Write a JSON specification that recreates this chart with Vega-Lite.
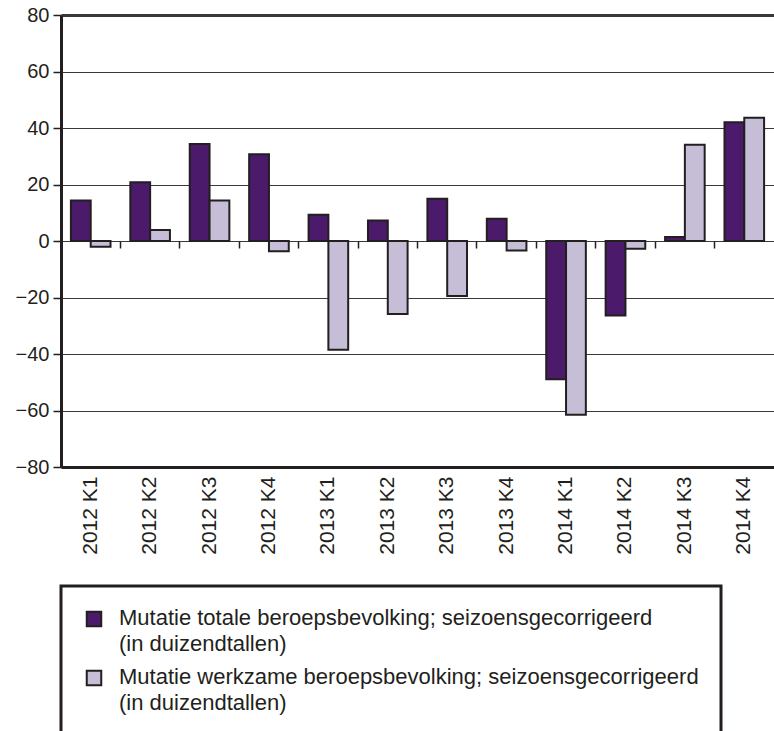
{
  "$schema": "https://vega.github.io/schema/vega-lite/v6.json",
  "autosize": "none",
  "width": 713,
  "height": 452,
  "padding": {"left": 61, "top": 15, "right": 0, "bottom": 264},
  "background": "#ffffff",
  "config": {
    "view": {"stroke": null},
    "font": "Liberation Sans",
    "axis": {"labelFont": "Liberation Sans", "labelColor": "#231f20", "titleFont": "Liberation Sans"},
    "legend": {"labelFont": "Liberation Sans"}
  },
  "data": {
    "values": [
      {"kwartaal": "2012 K1", "reeks": "Mutatie totale beroepsbevolking; seizoensgecorrigeerd (in duizendtallen)", "waarde": 14.3},
      {"kwartaal": "2012 K1", "reeks": "Mutatie werkzame beroepsbevolking; seizoensgecorrigeerd (in duizendtallen)", "waarde": -2.0},
      {"kwartaal": "2012 K2", "reeks": "Mutatie totale beroepsbevolking; seizoensgecorrigeerd (in duizendtallen)", "waarde": 20.8},
      {"kwartaal": "2012 K2", "reeks": "Mutatie werkzame beroepsbevolking; seizoensgecorrigeerd (in duizendtallen)", "waarde": 3.9},
      {"kwartaal": "2012 K3", "reeks": "Mutatie totale beroepsbevolking; seizoensgecorrigeerd (in duizendtallen)", "waarde": 34.3},
      {"kwartaal": "2012 K3", "reeks": "Mutatie werkzame beroepsbevolking; seizoensgecorrigeerd (in duizendtallen)", "waarde": 14.3},
      {"kwartaal": "2012 K4", "reeks": "Mutatie totale beroepsbevolking; seizoensgecorrigeerd (in duizendtallen)", "waarde": 30.7},
      {"kwartaal": "2012 K4", "reeks": "Mutatie werkzame beroepsbevolking; seizoensgecorrigeerd (in duizendtallen)", "waarde": -3.6},
      {"kwartaal": "2013 K1", "reeks": "Mutatie totale beroepsbevolking; seizoensgecorrigeerd (in duizendtallen)", "waarde": 9.3},
      {"kwartaal": "2013 K1", "reeks": "Mutatie werkzame beroepsbevolking; seizoensgecorrigeerd (in duizendtallen)", "waarde": -38.5},
      {"kwartaal": "2013 K2", "reeks": "Mutatie totale beroepsbevolking; seizoensgecorrigeerd (in duizendtallen)", "waarde": 7.3},
      {"kwartaal": "2013 K2", "reeks": "Mutatie werkzame beroepsbevolking; seizoensgecorrigeerd (in duizendtallen)", "waarde": -25.8},
      {"kwartaal": "2013 K3", "reeks": "Mutatie totale beroepsbevolking; seizoensgecorrigeerd (in duizendtallen)", "waarde": 15.0},
      {"kwartaal": "2013 K3", "reeks": "Mutatie werkzame beroepsbevolking; seizoensgecorrigeerd (in duizendtallen)", "waarde": -19.5},
      {"kwartaal": "2013 K4", "reeks": "Mutatie totale beroepsbevolking; seizoensgecorrigeerd (in duizendtallen)", "waarde": 7.9},
      {"kwartaal": "2013 K4", "reeks": "Mutatie werkzame beroepsbevolking; seizoensgecorrigeerd (in duizendtallen)", "waarde": -3.4},
      {"kwartaal": "2014 K1", "reeks": "Mutatie totale beroepsbevolking; seizoensgecorrigeerd (in duizendtallen)", "waarde": -48.9},
      {"kwartaal": "2014 K1", "reeks": "Mutatie werkzame beroepsbevolking; seizoensgecorrigeerd (in duizendtallen)", "waarde": -61.5},
      {"kwartaal": "2014 K2", "reeks": "Mutatie totale beroepsbevolking; seizoensgecorrigeerd (in duizendtallen)", "waarde": -26.4},
      {"kwartaal": "2014 K2", "reeks": "Mutatie werkzame beroepsbevolking; seizoensgecorrigeerd (in duizendtallen)", "waarde": -2.7},
      {"kwartaal": "2014 K3", "reeks": "Mutatie totale beroepsbevolking; seizoensgecorrigeerd (in duizendtallen)", "waarde": 1.4},
      {"kwartaal": "2014 K3", "reeks": "Mutatie werkzame beroepsbevolking; seizoensgecorrigeerd (in duizendtallen)", "waarde": 34.1},
      {"kwartaal": "2014 K4", "reeks": "Mutatie totale beroepsbevolking; seizoensgecorrigeerd (in duizendtallen)", "waarde": 42.0},
      {"kwartaal": "2014 K4", "reeks": "Mutatie werkzame beroepsbevolking; seizoensgecorrigeerd (in duizendtallen)", "waarde": 43.6}
    ]
  },
  "resolve": {"axis": {"x": "independent"}},
  "layer": [
    {
      "mark": {"type": "bar", "stroke": "#231f20", "strokeWidth": 2},
      "encoding": {
        "x": {
          "field": "kwartaal", "type": "nominal", "sort": null,
          "scale": {"paddingInner": 0.3333, "paddingOuter": 0.1667},
          "axis": {
            "title": null, "orient": "bottom", "labelAngle": -90, "labelFontSize": 21,
            "labelPadding": 9, "ticks": false, "domain": true, "domainColor": "#231f20",
            "domainWidth": 3, "grid": false, "labelBaseline": "middle"
          }
        },
        "xOffset": {"field": "reeks", "type": "nominal", "sort": null, "scale": {"paddingInner": 0, "paddingOuter": 0}},
        "y": {
          "field": "waarde", "type": "quantitative",
          "scale": {"domain": [-80, 80], "nice": false, "zero": false},
          "axis": {
            "title": null, "values": [-80, -60, -40, -20, 0, 20, 40, 60, 80],
            "labelFontSize": 20, "labelPadding": 4, "tickSize": 8, "tickColor": "#231f20",
            "tickWidth": 1.5, "domainColor": "#231f20", "domainWidth": 3,
            "grid": true, "gridColor": "#3a3a3a",
            "gridWidth": {"condition": {"test": "datum.value === 80", "value": 3}, "value": 1.2}
          }
        },
        "fill": {
          "field": "reeks", "type": "nominal", "sort": null,
          "scale": {"range": ["#4b1a6b", "#c6bdd7"]},
          "legend": {
            "title": null, "orient": "none", "legendX": 0, "legendY": 571,
            "padding": 22, "strokeColor": "#231f20", "symbolType": "square", "symbolSize": 210,
            "symbolStrokeColor": "#231f20", "symbolStrokeWidth": 2, "labelFontSize": 22,
            "labelColor": "#231f20", "labelLimit": 0, "labelOffset": 14, "rowPadding": 11,
            "labelBaseline": "top",
            "labelExpr": "[slice(datum.label, 0, indexof(datum.label, ' (')), slice(datum.label, indexof(datum.label, ' (') + 1)]",
            "encode": {
              "legend": {"update": {"strokeWidth": {"value": 3}, "width": {"value": 760}, "height": {"value": 200}}},
              "labels": {"update": {"lineHeight": {"value": 26}, "dy": {"value": -11}}}
            }
          }
        }
      }
    },
    {
      "mark": {"type": "rule", "opacity": 0},
      "encoding": {
        "x": {
          "field": "kwartaal", "type": "nominal", "sort": null,
          "axis": {
            "title": null, "orient": "bottom", "offset": -226, "labels": false, "domain": false,
            "grid": false, "ticks": true, "tickSize": 7, "tickWidth": 1.5, "tickColor": "#231f20",
            "bandPosition": -0.25
          }
        }
      }
    }
  ]
}
